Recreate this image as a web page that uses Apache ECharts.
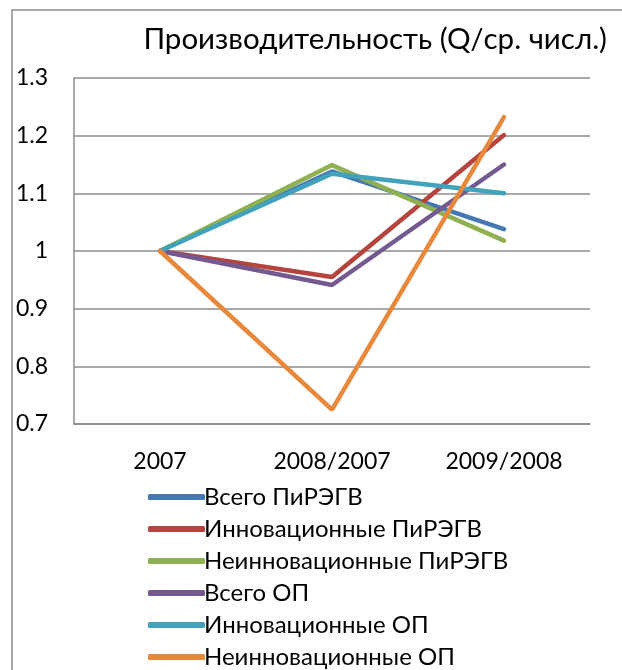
<!DOCTYPE html>
<html>
<head>
<meta charset="utf-8">
<script src="https://cdn.jsdelivr.net/npm/echarts@6/dist/echarts.min.js"></script>
<style>
  html, body { margin: 0; padding: 0; background: #fff; }
  #chart { width: 622px; height: 670px; }
</style>
</head>
<body>
<div id="chart"></div>
<script>
// категории и значения
var categories = ['2007', '2008/2007', '2009/2008'];
var seriesNames = [
    'Всего ПиРЭГВ',
    'Инновационные ПиРЭГВ',
    'Неинновационные ПиРЭГВ',
    'Всего ОП',
    'Инновационные ОП',
    'Неинновационные ОП'
];
var vsegoPir = [1, 1.138, 1.038];
var innPir = [1, 0.955, 1.201];
var neinnPir = [1, 1.149, 1.018];
var vsegoOp = [1, 0.941, 1.150];
var innOp = [1, 1.134, 1.100];
var neinnOp = [1, 0.725, 1.232];
var yTicks = [0.7, 0.8, 0.9, 1, 1.1, 1.2, 1.3];

var colors = ['#4677b5', '#b5443f', '#8fb050', '#73598f', '#43a2bb', '#e8883a'];
var allData = [vsegoPir, innPir, neinnPir, vsegoOp, innOp, neinnOp];

var myChart = echarts.init(document.getElementById('chart'));
var font = 'Lato, Open Sans, sans-serif';

var series = [];
for (var i = 0; i < seriesNames.length; i++) {
    series.push({
        name: seriesNames[i],
        type: 'line',
        data: allData[i],
        symbol: 'none',
        lineStyle: { width: 4.5, color: colors[i], cap: 'round' },
        itemStyle: { color: colors[i] }
    });
}

var option = {
    animation: false,
    title: {
        text: 'Производительность (Q/ср. числ.)',
        right: 10,
        top: 19,
        textStyle: { fontFamily: font, fontSize: 29.5, fontWeight: 'normal', color: '#000' }
    },
    graphic: [{
        type: 'rect',
        shape: { x: 12, y: 10, width: 640, height: 700 },
        style: { fill: 'none', stroke: '#8c8c8c', lineWidth: 1.5 }
    }],
    legend: {
        orient: 'vertical',
        left: 143,
        top: 480,
        height: 190,
        itemWidth: 57,
        itemHeight: 6,
        itemGap: 8,
        icon: 'roundRect',
        textStyle: { fontFamily: font, fontSize: 24, color: '#000', lineHeight: 24, padding: [0, 0, 0, -6] },
        data: seriesNames
    },
    grid: {
        left: 74,
        right: 32,
        top: 78,
        bottom: 246,
        containLabel: false
    },
    xAxis: {
        type: 'category',
        data: categories,
        boundaryGap: true,
        axisLine: { show: true, lineStyle: { color: '#8c8c8c', width: 1.5 } },
        axisTick: { show: false },
        axisLabel: { fontFamily: font, fontSize: 23, color: '#000', margin: 26 }
    },
    yAxis: {
        type: 'value',
        min: 0.7,
        max: 1.3,
        interval: 0.1,
        axisLine: { show: true, lineStyle: { color: '#8c8c8c', width: 1.5 } },
        axisTick: { show: false },
        splitLine: { lineStyle: { color: '#8c8c8c', width: 1.5 } },
        axisLabel: {
            fontFamily: font, fontSize: 23, color: '#000', margin: 26,
            formatter: function (v) { return String(Math.round(v * 10) / 10); }
        }
    },
    series: series
};

myChart.setOption(option);
window.addEventListener('resize', function () {
    myChart.resize();
});
</script>
</body>
</html>
